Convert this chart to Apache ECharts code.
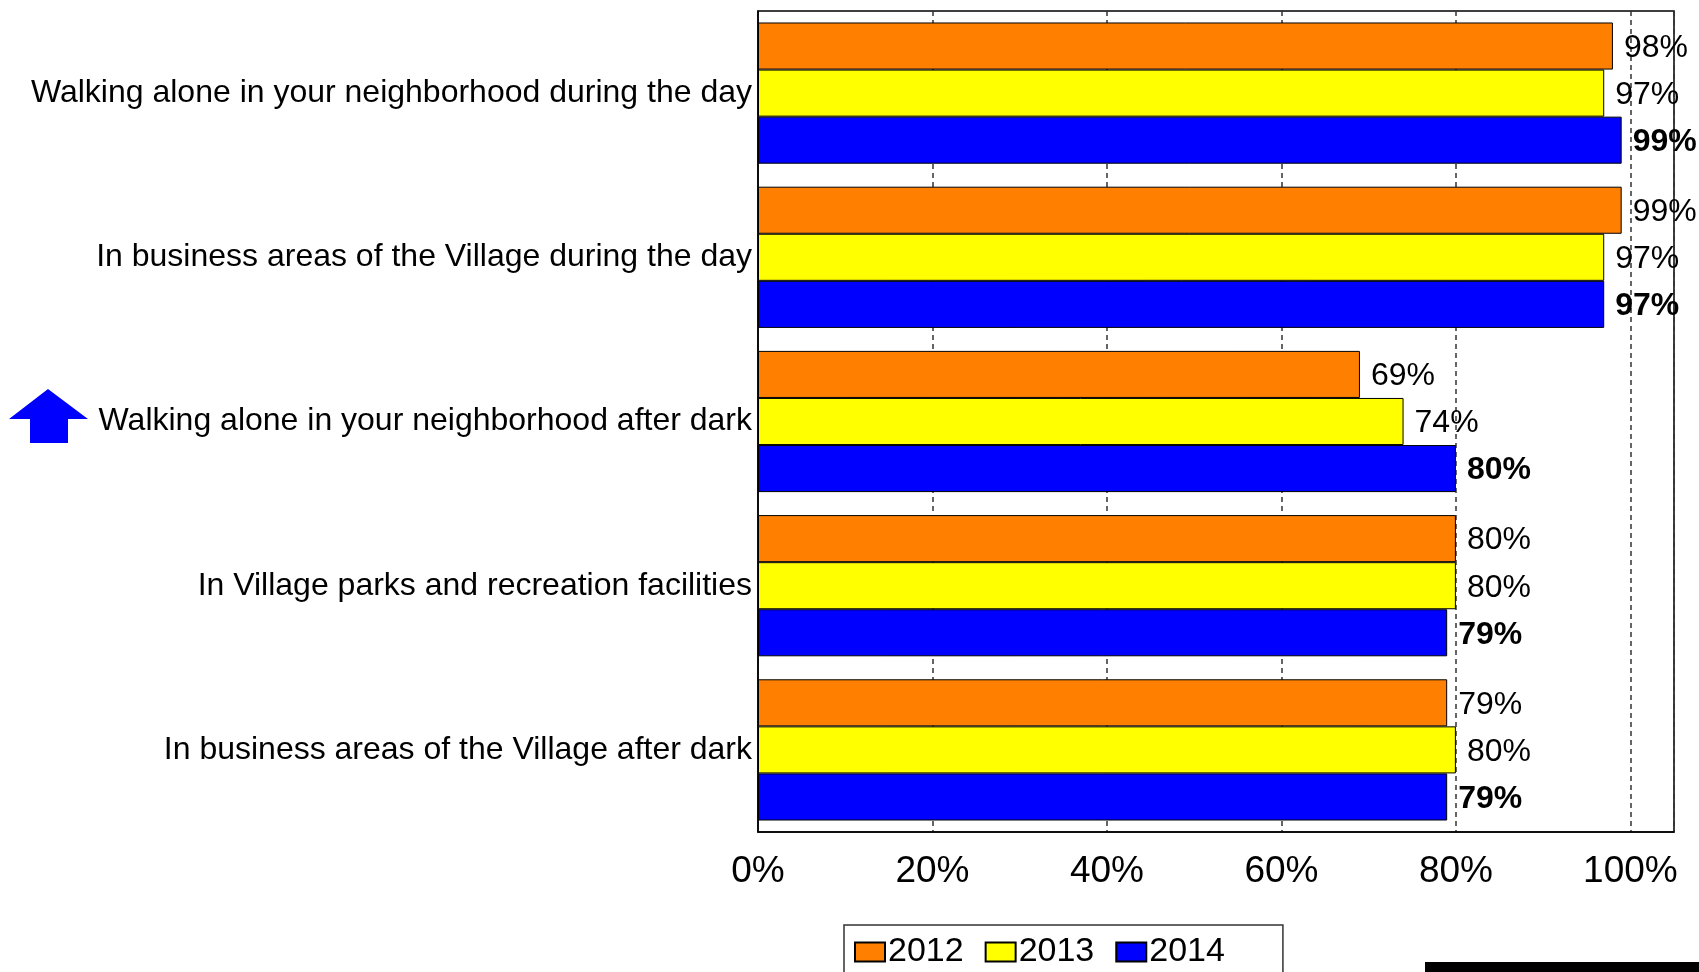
<!DOCTYPE html>
<html>
<head>
<meta charset="utf-8">
<script src="https://cdn.jsdelivr.net/npm/echarts@6/dist/echarts.min.js"></script>
<style>
  html, body { margin: 0; padding: 0; background: #fff; }
  #chart { width: 1699px; height: 972px; }
</style>
</head>
<body>
<div id="chart"></div>
<script>
var categories = [
  'Walking alone in your neighborhood during the day',
  'In business areas of the Village during the day',
  'Walking alone in your neighborhood after dark',
  'In Village parks and recreation facilities',
  'In business areas of the Village after dark'
];
var years = ['2012', '2013', '2014'];
var values2012 = [98, 99, 69, 80, 79];
var values2013 = [97, 97, 74, 80, 80];
var values2014 = [99, 97, 80, 79, 79];
var xTicks = [0, 20, 40, 60, 80, 100];

(function (window, document) {
  var FONT = '"Liberation Sans", Arial, sans-serif';
  var chartDom = document.getElementById('chart');
  var myChart = echarts.init(chartDom);

  function barSeries(name, data, color, bold) {
    return {
      name: name,
      type: 'bar',
      data: data,
      barGap: '0%',
      barCategoryGap: '14%',
      itemStyle: { color: color, borderColor: '#000', borderWidth: 1 },
      label: {
        show: true,
        position: 'right',
        distance: 11,
        offset: [0, 2],
        color: '#000',
        fontFamily: FONT,
        fontSize: 32,
        fontWeight: bold ? 'bold' : 'normal',
        formatter: '{c}%'
      }
    };
  }

  var option = {
    animation: false,
    backgroundColor: '#fff',
    grid: {
      left: 758,
      right: 25,
      top: 11,
      bottom: 140,
      show: true,
      borderColor: '#000',
      borderWidth: 1.5,
      containLabel: false
    },
    xAxis: {
      type: 'value',
      min: 0,
      max: 105,
      interval: 20,
      axisLine: { show: true, lineStyle: { color: '#000', width: 1.5 } },
      axisTick: { show: false },
      splitLine: { show: true, lineStyle: { color: '#333', width: 1.5, type: [5, 4] } },
      axisLabel: {
        color: '#000',
        fontFamily: FONT,
        fontSize: 37,
        margin: 21,
        formatter: function (v) {
          return xTicks.indexOf(v) >= 0 ? v + '%' : '';
        }
      }
    },
    yAxis: {
      type: 'category',
      data: categories,
      inverse: true,
      axisLine: { show: true, lineStyle: { color: '#000', width: 1.5 } },
      axisTick: { show: false },
      axisLabel: {
        color: '#000',
        fontFamily: FONT,
        fontSize: 32,
        margin: 6,
        padding: [4, 0, 0, 0]
      }
    },
    legend: {
      data: years,
      left: 844,
      top: 925,
      orient: 'horizontal',
      backgroundColor: '#fff',
      borderColor: '#333',
      borderWidth: 1.5,
      borderRadius: 0,
      padding: [10, 58, 10, 10],
      itemWidth: 30,
      itemHeight: 19,
      itemGap: 21,
      icon: 'rect',
      textStyle: { color: '#000', fontFamily: FONT, fontSize: 34, padding: [0, 0, 0, -2] }
    },
    graphic: [
      {
        // blue up arrow next to the 3rd category
        type: 'polygon',
        shape: { points: [[48, 389], [88, 419], [68, 419], [68, 443], [30, 443], [30, 419], [9, 419]] },
        style: { fill: '#0000ff' }
      },
      {
        type: 'rect',
        shape: { x: 1425, y: 962, width: 274, height: 10 },
        style: { fill: '#000' }
      }
    ],
    series: [
      barSeries('2012', values2012, '#ff8000', false),
      barSeries('2013', values2013, '#ffff00', false),
      barSeries('2014', values2014, '#0000ff', true)
    ]
  };

  option && myChart.setOption(option);

  window.addEventListener('resize', function () {
    myChart.resize();
  });
})(window, document);
</script>
</body>
</html>
